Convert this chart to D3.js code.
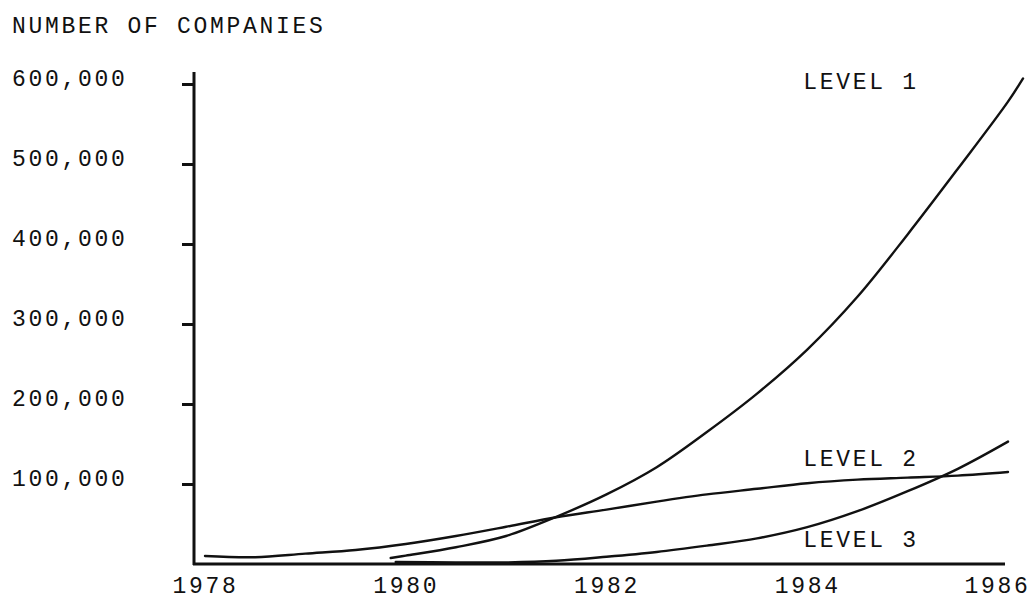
<!DOCTYPE html>
<html>
<head>
<meta charset="utf-8">
<script src="https://cdn.jsdelivr.net/npm/d3@7"></script>
<style>
  body { margin: 0; background: #fff; }
  svg text { font-family: "Liberation Mono", "DejaVu Sans Mono", monospace; fill: #111; }
</style>
</head>
<body>
<script>
// data: [year, number of companies]
var level1 = [
  [1979.85, 7500], [1980, 10500], [1980.5, 21000], [1981, 35000], [1981.5, 59000],
  [1982, 87000], [1982.5, 121000], [1983, 165000], [1983.5, 213000], [1984, 268000],
  [1984.5, 334000], [1985, 412000], [1985.5, 494000], [1986, 578000], [1986.15, 607000]
];
var level2 = [
  [1978, 10000], [1978.5, 8500], [1979, 13000], [1979.5, 17500], [1980, 25000],
  [1980.5, 35000], [1981, 46500], [1981.5, 58500], [1982, 68000], [1982.5, 78000],
  [1983, 87000], [1983.5, 94000], [1984, 101000], [1984.5, 105500], [1985, 108000],
  [1985.5, 110500], [1986, 115000]
];
var level3 = [
  [1979.9, 2500], [1980.5, 2000], [1981, 2000], [1981.5, 4000], [1982, 9000],
  [1982.5, 15000], [1983, 23000], [1983.5, 32000], [1984, 46000], [1984.5, 66000],
  [1985, 91000], [1985.5, 119000], [1986, 153000]
];
var seriesNames = ["LEVEL 1", "LEVEL 2", "LEVEL 3"];
// where each series name is typed: [year, value]
var namePos = [[1983.96, 593750], [1983.96, 122500], [1983.96, 21250]];
var yearTicks = [1978, 1980, 1982, 1984, 1986];
var valueTicks = [100000, 200000, 300000, 400000, 500000, 600000];
var yTitle = "NUMBER OF COMPANIES";

var w = 1029, h = 603;
var axisLeftX = 194, axisRightX = 1005;

var svg = d3
  .select("body")
  .append("svg")
  .attr("width", w)
  .attr("height", h);

var x = d3.scaleLinear().domain([1978, 1986]).range([205, 1008]);
var y = d3.scaleLinear().domain([0, 600000]).range([564, 84]);

var fontSize = "23px", spacing = "2.7px";

// y title
svg
  .append("text")
  .attr("x", 12)
  .attr("y", 33)
  .attr("font-size", fontSize)
  .attr("letter-spacing", spacing)
  .text(yTitle);

// y axis
var yAxis = d3
  .axisLeft(y)
  .tickValues(valueTicks)
  .tickSize(12)
  .tickSizeOuter(0)
  .tickFormat(d3.format(","));
var gy = svg
  .append("g")
  .attr("transform", "translate(" + axisLeftX + ",0)")
  .call(yAxis);
gy.select(".domain").remove();
gy.selectAll(".tick line").attr("stroke", "#111").attr("stroke-width", 3);
gy.selectAll(".tick text")
  .attr("x", 12 - axisLeftX)
  .attr("dy", "0.05em")
  .attr("text-anchor", "start")
  .attr("font-size", fontSize)
  .attr("letter-spacing", spacing);

// x axis, labels only
var xAxis = d3
  .axisBottom(x)
  .tickValues(yearTicks)
  .tickSize(0)
  .tickPadding(0)
  .tickFormat(d3.format("d"));
var gx = svg
  .append("g")
  .attr("transform", "translate(0," + y(0) + ")")
  .call(xAxis);
gx.select(".domain").remove();
gx.selectAll(".tick text")
  .attr("y", 29)
  .attr("dy", 0)
  .attr("font-size", fontSize)
  .attr("letter-spacing", spacing);
// last year sits against the right edge
gx.selectAll(".tick text")
  .filter(function (d) {
    return d === yearTicks[yearTicks.length - 1];
  })
  .attr("text-anchor", "end")
  .attr("x", w - x(yearTicks[yearTicks.length - 1]) + 1);

// frame lines
svg
  .append("line")
  .attr("x1", axisLeftX)
  .attr("x2", axisLeftX)
  .attr("y1", y(615000))
  .attr("y2", y(0) + 1)
  .attr("stroke", "#111")
  .attr("stroke-width", 3);
svg
  .append("line")
  .attr("x1", axisLeftX - 1)
  .attr("x2", axisRightX)
  .attr("y1", y(0))
  .attr("y2", y(0))
  .attr("stroke", "#111")
  .attr("stroke-width", 3);

// curves
var line = d3
  .line()
  .x(function (d) {
    return x(d[0]);
  })
  .y(function (d) {
    return y(d[1]);
  })
  .curve(d3.curveCatmullRom.alpha(0.5));

svg
  .selectAll("path.level")
  .data([level1, level2, level3])
  .enter()
  .append("path")
  .attr("class", "level")
  .attr("d", line)
  .attr("fill", "none")
  .attr("stroke", "#111")
  .attr("stroke-width", 2.4)
  .attr("stroke-linecap", "round");

// series names
svg
  .selectAll("text.name")
  .data(seriesNames)
  .enter()
  .append("text")
  .attr("class", "name")
  .attr("x", function (d, i) {
    return x(namePos[i][0]);
  })
  .attr("y", function (d, i) {
    return y(namePos[i][1]);
  })
  .attr("font-size", fontSize)
  .attr("letter-spacing", spacing)
  .text(function (d) {
    return d;
  });
</script>
</body>
</html>
